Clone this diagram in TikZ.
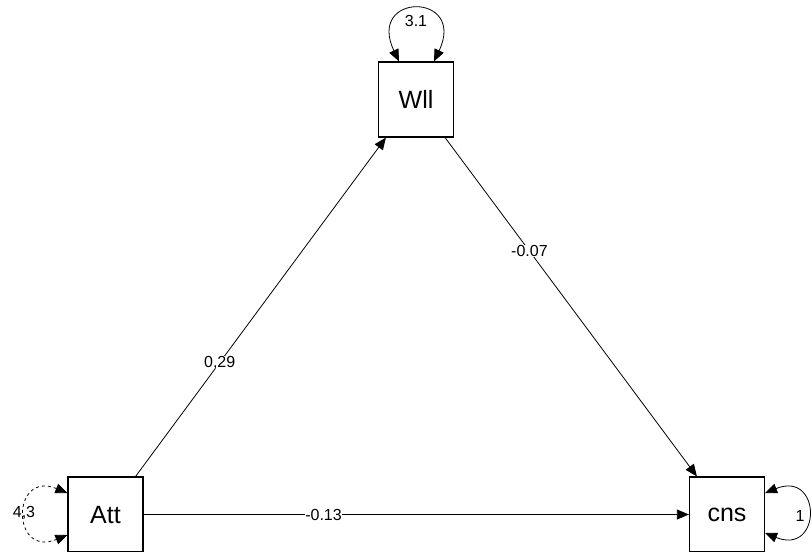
\documentclass[tikz,border=0pt]{standalone}
\usepackage{fontspec}
\setmainfont{Liberation Sans}
\usetikzlibrary{arrows.meta}
\begin{document}
\begin{tikzpicture}[x=1pt,y=-1pt,
  var/.style={draw,line width=1.2pt,minimum width=75pt,minimum height=75pt,inner sep=0pt,font=\fontsize{25}{25}\selectfont},
  edge/.style={line width=0.8pt,-{Triangle[length=12pt,width=10pt]}},
  loopedge/.style={line width=0.8pt,{Triangle[length=12pt,width=10pt]}-{Triangle[length=12pt,width=10pt]}},
  lab/.style={fill=white,inner sep=0.3pt,font=\fontsize{16}{16}\selectfont}]
\useasboundingbox (0,0) rectangle (812,552);
\node[var] (W) at (416,99.5) {Wll};
\node[var] (A) at (105.5,514.5) {Att};
\node[var] (C) at (727,514.5) {cns};
% edges
\draw[edge] ([xshift=-8pt]A.north east) -- node[lab,pos=0.336] {0,29} ([xshift=8pt]W.south west);
\draw[edge] ([xshift=-9pt]W.south east) -- node[lab,pos=0.335] {-0.07} ([xshift=8pt]C.north west);
\draw[edge] (A.east) -- node[lab,pos=0.33] {-0.13} (C.west);
% loops
\draw[loopedge] ([xshift=-17pt]W.north) .. controls (366,-8) and (467,-8) .. ([xshift=18pt]W.north);
\node[lab] (l31) at (416,21) {3.1};
\draw[loopedge,dashed] ([yshift=21.5pt]A.west) .. controls (11,470) and (11,558) .. ([yshift=-20.5pt]A.west);
\node[lab,fill=none] (l43) at (24,513) {4,3};
\draw[loopedge] ([yshift=21.5pt]C.east) .. controls (822,470) and (822,556) .. ([yshift=-18.5pt]C.east);
\node[lab,fill=none] (l1) at (800,516) {1};
\end{tikzpicture}
\end{document}
